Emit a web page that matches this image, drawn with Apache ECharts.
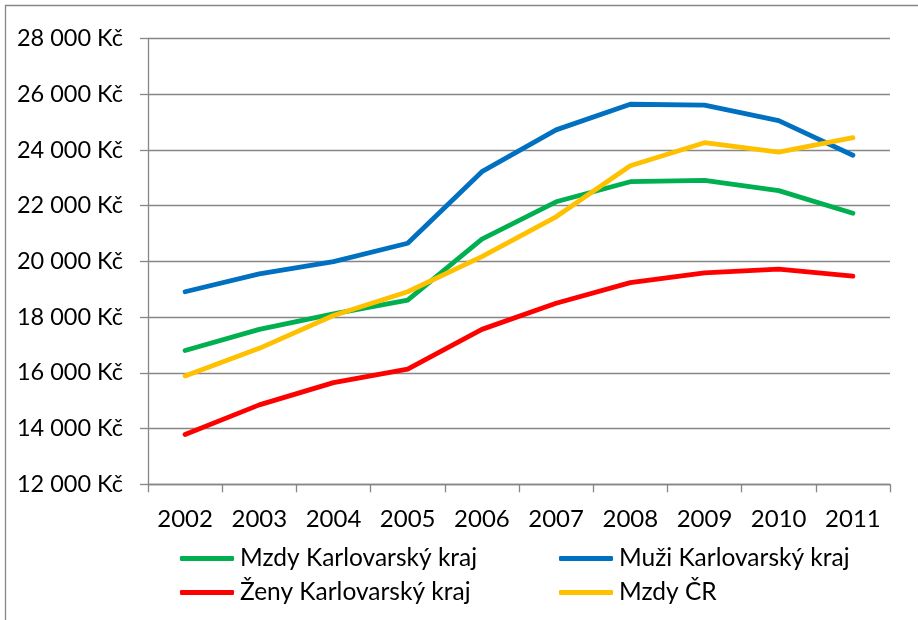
<!DOCTYPE html>
<html><head><meta charset="utf-8">
<script src="https://cdn.jsdelivr.net/npm/echarts@6/dist/echarts.min.js"></script>
<style>html,body{margin:0;padding:0;background:#fff}#c{width:918px;height:620px}</style>
</head><body><div id="c"></div>
<script>
const years = ['2002','2003','2004','2005','2006','2007','2008','2009','2010','2011'];
const mzdyKK = [16800,17560,18120,18610,20800,22140,22860,22910,22540,21730];
const muziKK = [18910,19550,19990,20650,23220,24720,25640,25610,25050,23810];
const zenyKK = [13790,14850,15650,16130,17560,18500,19240,19590,19720,19470];
const mzdyCR = [15890,16880,18060,18910,20170,21600,23430,24260,23920,24440];
const seriesNames = ['Mzdy Karlovarský kraj','Muži Karlovarský kraj','Ženy Karlovarský kraj','Mzdy ČR'];
const seriesColors = ['#00B050','#0070C0','#FF0000','#FFC000'];
const seriesData = [mzdyKK, muziKK, zenyKK, mzdyCR];

const FONT = 'Lato';
const gridColor = '#868686';
const chart = echarts.init(document.getElementById('c'), null, {renderer:'canvas'});
const legendPos = [[180,546],[559,546],[180,580],[559,580]];
chart.setOption({
  animation:false,
  textStyle:{fontFamily:FONT},
  graphic:[{type:'rect', shape:{x:5.5,y:5.5,width:1000,height:1000}, style:{fill:'none',stroke:gridColor,lineWidth:1.3}}],
  grid:{left:148,right:28,top:38.5,bottom:135.7},
  xAxis:{type:'category',data:years,boundaryGap:true,
    axisLine:{lineStyle:{color:gridColor,width:1.3}},
    axisTick:{show:true,length:8,lineStyle:{color:gridColor,width:1.3}},
    axisLabel:{color:'#000',fontSize:24,fontFamily:FONT,margin:23}},
  yAxis:{type:'value',min:12000,max:28000,interval:2000,
    axisLine:{show:true,lineStyle:{color:gridColor,width:1.3}},
    axisTick:{show:true,length:8,lineStyle:{color:gridColor,width:1.3}},
    splitLine:{lineStyle:{color:gridColor,width:1.3}},
    axisLabel:{color:'#000',fontSize:23.5,fontFamily:FONT,margin:25,
      formatter:v=>String(v).replace(/\B(?=(\d{3})+(?!\d))/g,' ')+' Kč'}},
  legend: seriesNames.map((n,i)=>({data:[n],left:legendPos[i][0],top:legendPos[i][1],padding:0,
    icon:'roundRect',itemWidth:54,itemHeight:5,itemGap:0,
    textStyle:{color:'#000',fontSize:24.5,fontFamily:FONT,padding:[0,0,0,1]}})),
  series: seriesNames.map((n,i)=>({name:n,type:'line',data:seriesData[i],symbol:'none',showSymbol:false,
    color:seriesColors[i],lineStyle:{width:4.8,color:seriesColors[i],cap:'round',join:'round'}}))
});
</script></body></html>
